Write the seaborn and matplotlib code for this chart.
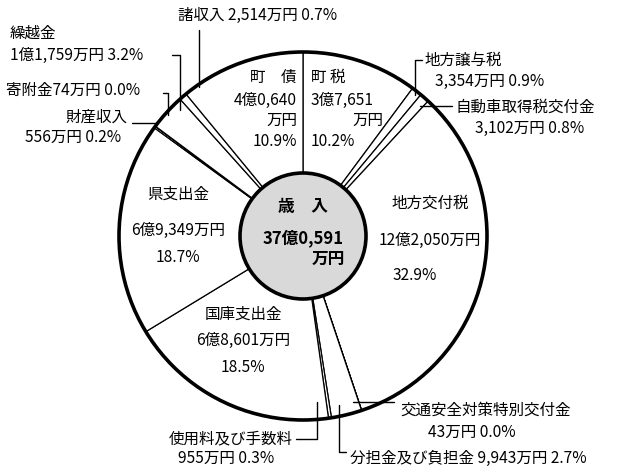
import matplotlib
matplotlib.use("Agg")
import matplotlib.pyplot as plt
from matplotlib.patches import Circle
import seaborn as sns

# --- data (万円) ---
categories = ["町税", "地方譲与税", "自動車取得税交付金", "地方交付税",
              "交通安全対策特別交付金", "分担金及び負担金", "使用料及び手数料",
              "国庫支出金", "県支出金", "財産収入", "寄附金", "繰越金",
              "諸収入", "町債"]
amounts = [37651, 3354, 3102, 122050, 43, 9943, 955,
           68601, 69349, 556, 74, 11759, 2514, 40640]
amount_labels = ["3億7,651万円", "3,354万円", "3,102万円", "12億2,050万円",
                 "43万円", "9,943万円", "955万円", "6億8,601万円",
                 "6億9,349万円", "556万円", "74万円", "1億1,759万円",
                 "2,514万円", "4億0,640万円"]
percents = ["10.2%", "0.9%", "0.8%", "32.9%", "0.0%", "2.7%", "0.3%",
            "18.5%", "18.7%", "0.2%", "0.0%", "3.2%", "0.7%", "10.9%"]
total_label = "37億0,591"

sns.set_theme(style="white")
plt.rcParams["font.family"] = ["Noto Sans CJK JP", "DejaVu Sans"]

W, H = 623, 468
fig = plt.figure(figsize=(W / 100, H / 100), dpi=100)
ax = fig.add_axes([0, 0, 1, 1])


def px(x, y):
    # pixel position (from top-left) -> data coords
    return x, H - y


cx, cy = px(303, 236)
R = 184
r_in = 63

ax.pie(amounts, startangle=90, counterclock=False, center=(cx, cy), radius=R,
       colors=["white"] * len(amounts),
       wedgeprops=dict(edgecolor="black", linewidth=0.9))
ax.add_patch(Circle((cx, cy), R, fill=False, edgecolor="black", linewidth=2.6, zorder=3))
ax.add_patch(Circle((cx, cy), r_in, facecolor="#d9d9d9", edgecolor="black",
                    linewidth=2.6, zorder=4))
ax.set_xlim(0, W)
ax.set_ylim(0, H)
ax.set_aspect("equal")
ax.axis("off")

fs = 11.2
tc = "black"


def txt(x, y, s, ha="left", **kw):
    ax.text(*px(x, y), s, ha=ha, va="center", fontsize=kw.pop("size", fs),
            color=tc, zorder=6, **kw)


def leader(points):
    xs = [p[0] for p in points]
    ys = [H - p[1] for p in points]
    ax.plot(xs, ys, color="black", linewidth=1.0, zorder=5)


d = dict(zip(categories, zip(amount_labels, percents)))

# center
txt(303, 207, "歳　入", ha="center", size=12, fontweight="bold")
txt(303, 238, total_label, ha="center", size=12, fontweight="bold")
txt(345, 259, "万円", ha="right", size=12, fontweight="bold")

# 町債 / 町税
txt(297, 77, "町　債", ha="right")
txt(297, 100, d["町債"][0].replace("万円", ""), ha="right")
txt(297, 120, "万円", ha="right")
txt(297, 141, d["町債"][1], ha="right")
txt(311, 77, "町 税")
txt(311, 100, d["町税"][0].replace("万円", ""))
txt(383, 120, "万円", ha="right")
txt(311, 141, d["町税"][1])

# 地方交付税
txt(430, 203, "地方交付税", ha="center")
txt(430, 240, d["地方交付税"][0], ha="center")
txt(415, 275, d["地方交付税"][1], ha="center")

# 県支出金
txt(178, 194, "県支出金", ha="center")
txt(178, 230, d["県支出金"][0], ha="center")
txt(178, 257, d["県支出金"][1], ha="center")

# 国庫支出金
txt(243, 314, "国庫支出金", ha="center")
txt(243, 340, d["国庫支出金"][0], ha="center")
txt(243, 367, d["国庫支出金"][1], ha="center")

# outside labels
txt(178, 15, "諸収入 " + d["諸収入"][0] + " " + d["諸収入"][1])
leader([(199, 30), (199, 87)])

txt(10, 33, "繰越金")
txt(10, 55, d["繰越金"][0] + " " + d["繰越金"][1])
leader([(172, 55), (180, 55), (180, 110)])

txt(6, 90, "寄附金" + d["寄附金"][0] + " " + d["寄附金"][1])
leader([(163, 93), (168, 93), (168, 115)])

txt(127, 117, "財産収入", ha="right")
txt(25, 137, d["財産収入"][0] + " " + d["財産収入"][1])
leader([(132, 123), (157, 123)])

txt(425, 60, "地方譲与税")
txt(435, 81, d["地方譲与税"][0] + " " + d["地方譲与税"][1])
leader([(422, 60), (415, 60), (415, 95)])

txt(455, 107, "自動車取得税交付金")
txt(475, 128, d["自動車取得税交付金"][0] + " " + d["自動車取得税交付金"][1])
leader([(420, 106), (452, 106)])

txt(400, 410, "交通安全対策特別交付金")
txt(428, 432, d["交通安全対策特別交付金"][0] + " " + d["交通安全対策特別交付金"][1])
leader([(353, 402), (394, 402)])

txt(293, 439, "使用料及び手数料", ha="right")
txt(178, 458, d["使用料及び手数料"][0] + " " + d["使用料及び手数料"][1])
leader([(296, 439), (317, 439), (317, 402)])

txt(350, 458, "分担金及び負担金 " + d["分担金及び負担金"][0] + " " + d["分担金及び負担金"][1])
leader([(339, 405), (339, 452), (346, 452)])

fig.savefig("out.png", dpi=100, facecolor="white")
